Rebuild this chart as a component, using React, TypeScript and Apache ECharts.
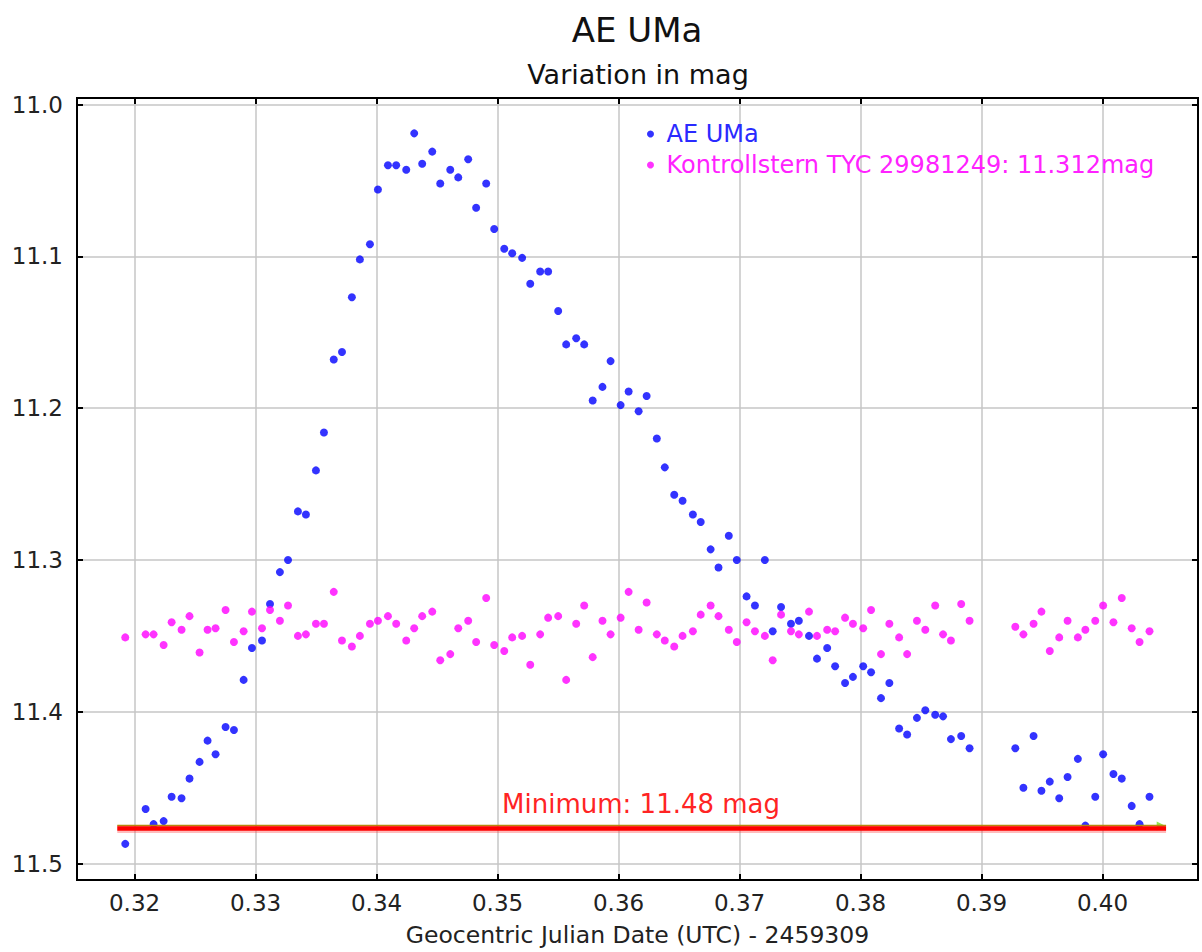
import React, { useEffect, useRef } from "react";
import * as echarts from "echarts";

// Geocentric Julian Date (UTC) - 2459309
const jd = [
  0.31923, 0.32091, 0.32157, 0.3224, 0.32306, 0.32388, 0.32454, 0.32537, 0.32603, 0.32669, 0.32752,
  0.32821, 0.32901, 0.3297, 0.33053, 0.33119, 0.33201, 0.33268, 0.3335, 0.33416, 0.33499, 0.33565,
  0.33646, 0.33714, 0.33796, 0.33862, 0.33945, 0.34011, 0.34094, 0.34162, 0.34245, 0.34311, 0.34377,
  0.3446, 0.34526, 0.34609, 0.34675, 0.34757, 0.34823, 0.34906, 0.34972, 0.35055, 0.35121, 0.35203,
  0.3527, 0.35352, 0.35418, 0.35501, 0.35567, 0.3565, 0.35716,
  0.35786, 0.35867, 0.35934, 0.36017, 0.36083, 0.36166, 0.36232, 0.36316, 0.36382, 0.3646, 0.36529,
  0.36614, 0.36679, 0.36761, 0.36826, 0.36911, 0.36977, 0.37058, 0.37127, 0.37209, 0.37274, 0.37343,
  0.37425, 0.3749, 0.37574, 0.3764, 0.37724, 0.3779, 0.37872, 0.37937, 0.38022, 0.38087, 0.38169,
  0.38238, 0.38319, 0.38385, 0.38466, 0.38535, 0.38617, 0.38682, 0.38747, 0.38832, 0.38901,
  0.39279, 0.39346, 0.3943, 0.39495, 0.39564, 0.39642, 0.39711, 0.39796, 0.39858, 0.3994, 0.40005,
  0.4009, 0.40159, 0.40241, 0.40306, 0.40388,
];

const aeUMa = [
  11.487, 11.464, 11.474, 11.472, 11.456, 11.457, 11.444, 11.433, 11.419, 11.428, 11.41,
  11.412, 11.379, 11.358, 11.353, 11.329, 11.308, 11.3, 11.268, 11.27, 11.241, 11.216,
  11.168, 11.163, 11.127, 11.102, 11.092, 11.056, 11.04, 11.04, 11.043, 11.019, 11.039,
  11.031, 11.052, 11.043, 11.048, 11.036, 11.068, 11.052, 11.082, 11.095, 11.098, 11.101,
  11.118, 11.11, 11.11, 11.136, 11.158, 11.154, 11.158,
  11.195, 11.186, 11.169, 11.198, 11.189, 11.202, 11.192, 11.22, 11.239, 11.257, 11.261,
  11.27, 11.275, 11.293, 11.305, 11.284, 11.3, 11.324, 11.33, 11.3, 11.347, 11.331,
  11.342, 11.34, 11.35, 11.365, 11.358, 11.37, 11.381, 11.377, 11.37, 11.374, 11.391,
  11.381, 11.411, 11.415, 11.404, 11.399, 11.402, 11.403, 11.418, 11.416, 11.424,
  11.424, 11.45, 11.416, 11.452, 11.446, 11.457, 11.443, 11.431, 11.475, 11.456, 11.428,
  11.441, 11.444, 11.462, 11.474, 11.456,
];

const kontrollstern = [
  11.351, 11.349, 11.349, 11.356, 11.341, 11.346, 11.337, 11.361, 11.346, 11.345, 11.333,
  11.354, 11.347, 11.334, 11.345, 11.333, 11.34, 11.33, 11.35, 11.349, 11.342, 11.342,
  11.321, 11.353, 11.357, 11.35, 11.342, 11.34, 11.337, 11.342, 11.353, 11.345, 11.337,
  11.334, 11.366, 11.362, 11.345, 11.34, 11.354, 11.325, 11.356, 11.36, 11.351, 11.35,
  11.369, 11.349, 11.338, 11.337, 11.379, 11.342, 11.33,
  11.364, 11.34, 11.349, 11.338, 11.321, 11.346, 11.328, 11.349, 11.353, 11.357, 11.35,
  11.347, 11.336, 11.33, 11.337, 11.346, 11.354, 11.341, 11.347, 11.35, 11.366, 11.336,
  11.347, 11.349, 11.334, 11.35, 11.346, 11.347, 11.338, 11.342, 11.345, 11.333, 11.362,
  11.342, 11.351, 11.362, 11.34, 11.346, 11.33, 11.349, 11.353, 11.329, 11.34,
  11.344, 11.349, 11.342, 11.334, 11.36, 11.351, 11.34, 11.351, 11.346, 11.34, 11.33,
  11.341, 11.325, 11.345, 11.354, 11.347,
];

const xTicks = [0.32, 0.33, 0.34, 0.35, 0.36, 0.37, 0.38, 0.39, 0.4];
const yTicks = [11.0, 11.1, 11.2, 11.3, 11.4, 11.5];
const xRange = [0.31524, 0.40789];
const yRange = [10.9957, 11.5108];

const minimumMag = 11.4768;
const minimumEdge = 11.4749;
const minimumLineX = [0.31857, 0.40525];
const minimumArrow = [0.40485, 11.4752];
const minimumLabel = "Minimum: 11.48 mag";

const seriesNames = ["AE UMa", "Kontrollstern TYC 29981249: 11.312mag"];

const FONT = "DejaVu Sans";

export default function App() {
  const ref = useRef<HTMLDivElement>(null);
  useEffect(() => {
    if (!ref.current) return;
    const chart = echarts.init(ref.current, undefined, { renderer: "svg" });
    const pts = (ys: number[]) => jd.map((x, i) => [x, ys[i]]);
    const xAxisBase = {
      type: "value",
      min: xRange[0],
      max: xRange[1],
      axisLine: { show: false },
      axisTick: {
        show: true,
        inside: true,
        length: 6,
        customValues: xTicks,
        lineStyle: { color: "#000", width: 2 },
      },
    };
    const yAxisBase = {
      type: "value",
      inverse: true,
      min: yRange[0],
      max: yRange[1],
      axisLine: { show: false },
      axisTick: {
        show: true,
        inside: true,
        length: 6,
        customValues: yTicks,
        lineStyle: { color: "#000", width: 2 },
      },
    };
    chart.setOption({
      animation: false,
      backgroundColor: "#fff",
      textStyle: { fontFamily: FONT },
      title: [
        {
          text: "AE UMa",
          left: 632,
          top: 8,
          textAlign: "center",
          textStyle: { fontFamily: FONT, fontSize: 34, fontWeight: "normal", color: "#111" },
        },
        {
          text: "Variation in mag",
          left: 633,
          top: 56,
          textAlign: "center",
          textStyle: { fontFamily: FONT, fontSize: 27, fontWeight: "normal", color: "#111" },
        },
      ],
      legend: {
        orient: "vertical",
        left: 642,
        top: 116,
        itemWidth: 22,
        itemHeight: 7,
        itemGap: 5,
        icon: "circle",
        selectedMode: false,
        data: [
          { name: seriesNames[0], textStyle: { color: "#2a2aff" } },
          { name: seriesNames[1], textStyle: { color: "#ff22ff" } },
        ],
        textStyle: { fontFamily: FONT, fontSize: 24, lineHeight: 26 },
      },
      grid: {
        left: 77,
        top: 98,
        width: 1121,
        height: 784,
        show: true,
        borderColor: "#000",
        borderWidth: 2,
        backgroundColor: "transparent",
      },
      xAxis: [
        {
          ...xAxisBase,
          position: "bottom",
          name: "Geocentric Julian Date (UTC) - 2459309",
          nameLocation: "middle",
          nameGap: 43,
          nameTextStyle: { fontFamily: FONT, fontSize: 23.5, color: "#222" },
          splitLine: { show: true, lineStyle: { color: "#c6c6c6", width: 1.5 } },
          axisLabel: {
            show: true,
            customValues: xTicks,
            margin: 11,
            fontFamily: FONT,
            fontSize: 23,
            color: "#222",
            formatter: (v: number) => v.toFixed(2),
          },
        },
        {
          ...xAxisBase,
          position: "top",
          splitLine: { show: false },
          axisLabel: { show: false },
        },
      ],
      yAxis: [
        {
          ...yAxisBase,
          position: "left",
          splitLine: { show: true, lineStyle: { color: "#c6c6c6", width: 1.5 } },
          axisLabel: {
            show: true,
            customValues: yTicks,
            margin: 14,
            fontFamily: FONT,
            fontSize: 23,
            color: "#222",
            formatter: (v: number) => v.toFixed(1),
          },
        },
        {
          ...yAxisBase,
          position: "right",
          splitLine: { show: false },
          axisLabel: { show: false },
        },
      ],
      series: [
        {
          name: seriesNames[0],
          type: "scatter",
          symbol: "circle",
          symbolSize: 8,
          itemStyle: { color: "#0000ff" },
          data: pts(aeUMa),
          z: 3,
        },
        {
          name: seriesNames[1],
          type: "scatter",
          symbol: "circle",
          symbolSize: 8,
          itemStyle: { color: "#ff00ff" },
          data: pts(kontrollstern),
          z: 3,
        },
        {
          name: "arrow",
          type: "scatter",
          symbol: "triangle",
          symbolRotate: -90,
          symbolSize: 9,
          itemStyle: { color: "#77dd22" },
          data: [minimumArrow],
          z: 4,
          silent: true,
        },
        {
          name: "minGlow",
          type: "line",
          symbol: "none",
          lineStyle: { color: "rgba(255,60,60,0.35)", width: 8 },
          data: minimumLineX.map((x) => [x, minimumMag + 0.0004]),
          z: 5,
          silent: true,
        },
        {
          name: "minEdge",
          type: "line",
          symbol: "none",
          lineStyle: { color: "#b8860b", width: 1.5 },
          data: minimumLineX.map((x) => [x, minimumEdge]),
          z: 5,
          silent: true,
        },
        {
          name: "minimum",
          type: "line",
          symbol: "none",
          lineStyle: { color: "#ff0000", width: 4.5 },
          data: minimumLineX.map((x) => [x, minimumMag]),
          z: 6,
          silent: true,
          markPoint: {
            symbol: "rect",
            symbolSize: 0,
            data: [
              {
                coord: [(minimumLineX[0] + minimumLineX[1]) / 2 - 0.00005, minimumMag],
                label: {
                  show: true,
                  formatter: minimumLabel,
                  position: "top",
                  distance: 11,
                  fontFamily: FONT,
                  fontSize: 26,
                  color: "#ff2424",
                },
              },
            ],
          },
        },
      ],
    });
    return () => chart.dispose();
  }, []);
  return (
    <div
      ref={ref}
      style={{ position: "absolute", left: 0, top: 0, width: 1202, height: 952 }}
    />
  );
}
